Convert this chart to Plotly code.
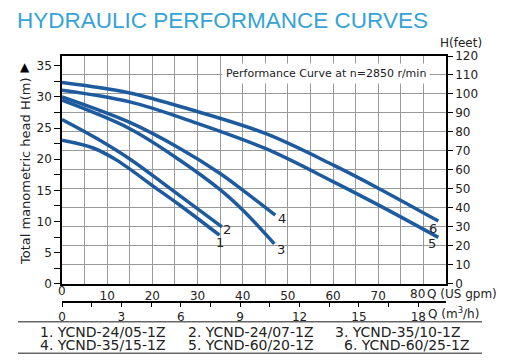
import plotly.graph_objects as go

# ---- data (flow in US gpm, head in m) ----
flow_1 = [0, 6.9, 12.1, 20.7, 26.1, 34.85]
head_1 = [23.05, 21.8, 19.85, 15.4, 12.6, 7.8]
flow_2 = [0, 8, 15.4, 23.9, 35.4]
head_2 = [26.37, 23.2, 19.84, 15.3, 9.14]
flow_3 = [0, 15, 26.1, 35.0, 40.0, 47.0]
head_3 = [29.47, 24.9, 19.84, 15.1, 11.82, 6.39]
flow_4 = [0, 15, 26.1, 35.0, 40.0, 47.2]
head_4 = [30.0, 25.9, 21.72, 17.71, 15.03, 11.02]
flow_5 = [0, 15, 28.4, 45, 60.1, 70.1, 83.3]
head_5 = [31.07, 29.2, 26.15, 21.72, 16.36, 12.62, 7.44]
flow_6 = [0, 15, 28.4, 45, 60.1, 70.1, 83.3]
head_6 = [32.31, 30.64, 27.98, 24.13, 19.04, 15.3, 10.06]

curve_ids = ["1", "2", "3", "4", "5", "6"]
models = ["1. YCND-24/05-1Z", "2. YCND-24/07-1Z", "3. YCND-35/10-1Z",
          "4. YCND-35/15-1Z", "5. YCND-60/20-1Z", "6. YCND-60/25-1Z"]

head_m_ticks = [0, 5, 10, 15, 20, 25, 30, 35]
head_ft_ticks = [0, 10, 20, 30, 40, 50, 60, 70, 80, 90, 100, 110, 120]
gpm_ticks = [0, 10, 20, 30, 40, 50, 60, 70, 80]
m3h_ticks = [0, 3, 6, 9, 12, 15, 18]

FT_PER_M = 3.28084
GPM_MAX = 85

# ---- geometry: the page body has an 8px margin, so the figure is 8px smaller ----
OFF = 8
W, H = 508 - OFF, 362 - OFF
ML, MR, MT, MB = 58 - OFF, 62, 56 - OFF, 60
PW, PH = W - ML - MR, H - MT - MB
def px(x):  # reference-window pixel -> paper
    return (x - OFF - ML) / PW
def py(y):
    return (H - MB - (y - OFF)) / PH

LINE = "#1D5B9E"
TXT = "#222222"
GRID = "#9a9a9a"
FONT = "DejaVu Sans"

fig = go.Figure()
flows = [flow_1, flow_2, flow_3, flow_4, flow_5, flow_6]
heads = [head_1, head_2, head_3, head_4, head_5, head_6]
for f, h in zip(flows, heads):
    fig.add_trace(go.Scatter(x=f, y=h, mode="lines", line=dict(color=LINE, width=3.5, shape="spline"),
                             showlegend=False, hoverinfo="skip", xaxis="x", yaxis="y"))

fig.add_trace(go.Scatter(x=[0], y=[0], mode="markers", marker=dict(opacity=0), showlegend=False,
                         hoverinfo="skip", xaxis="x2", yaxis="y"))
fig.add_trace(go.Scatter(x=[0], y=[0], mode="markers", marker=dict(opacity=0), showlegend=False,
                         hoverinfo="skip", xaxis="x", yaxis="y2"))

ymax_m = 120 / FT_PER_M
y_dom0 = py(283.7)

m_vals = [i * 2.5 for i in range(15)]
m_text = [str(int(v)) if v in head_m_ticks else " " for v in m_vals]
g_vals = [i * 5 for i in range(17)]
# first and last gpm labels are placed separately (they sit slightly off the grid in the original)
g_text = [str(v) if (v in gpm_ticks and v not in (gpm_ticks[0], gpm_ticks[-1])) else " " for v in g_vals]
q_vals = [i * 1.5 for i in range(13)]
q_text = [str(int(v)) if v in m3h_ticks else " " for v in q_vals]

fig.update_layout(
    template="none",
    width=W, height=H, margin=dict(l=ML, r=MR, t=MT, b=MB, autoexpand=False),
    paper_bgcolor="white", plot_bgcolor="white",
    font=dict(family=FONT, color=TXT, size=12),
    title=dict(text="HYDRAULIC PERFORMANCE CURVES", x=(17 - OFF) / W, xanchor="left", xref="container",
               y=1 - (20 - OFF) / H, yanchor="middle", yref="container", automargin=False,
               font=dict(family="Liberation Sans, Arial", size=22.5, color="#35A3D5")),
    xaxis=dict(domain=[px(62), 1], range=[0, GPM_MAX], tickvals=g_vals, ticktext=g_text,
               showgrid=True, gridcolor=GRID, gridwidth=1, ticks="", showline=True, linecolor="black",
               linewidth=1.5, mirror=True, zeroline=False, anchor="y", automargin=False,
               tickfont=dict(size=12)),
    xaxis2=dict(domain=[0, 1], range=[0, PW / 20.0], tickvals=q_vals, ticktext=q_text,
                anchor="free", position=0, overlaying="x", side="bottom", showgrid=False,
                ticks="outside", ticklen=4, tickcolor="black", showline=True, linecolor="black",
                linewidth=1.5, zeroline=False, automargin=False, tickfont=dict(size=12)),
    yaxis=dict(domain=[y_dom0, 1], range=[0, ymax_m], tickvals=m_vals, ticktext=m_text,
               showgrid=False, ticks="outside", ticklen=6, tickcolor="black", showline=True,
               linecolor="black", linewidth=1.5, zeroline=False, anchor="x", automargin=False,
               tickfont=dict(size=12)),
    yaxis2=dict(range=[0, 120], tickvals=head_ft_ticks, overlaying="y", side="right", anchor="x",
                showgrid=True, gridcolor=GRID, gridwidth=1, ticks="outside", ticklen=5,
                tickcolor="black", showline=True, linecolor="black", linewidth=1.5, zeroline=False,
                automargin=False, tickfont=dict(size=12)),
)

ann = []
ann.append(dict(text="Total manometric head H(m)", textangle=-90, x=px(25), y=py(172), xref="paper",
                yref="paper", showarrow=False, font=dict(size=13, color=TXT), xanchor="center", yanchor="middle"))
ann.append(dict(text="▲", x=px(25), y=py(67), xref="paper", yref="paper", showarrow=False,
                font=dict(size=12, color="black"), xanchor="center", yanchor="middle"))
ann.append(dict(text="H(feet)", x=px(461), y=py(43), xref="paper", yref="paper", showarrow=False,
                font=dict(size=12, color=TXT), xanchor="center", yanchor="middle"))
ann.append(dict(text="Q (US gpm)", x=px(425), y=py(293.5), xref="paper", yref="paper", showarrow=False,
                font=dict(size=12, color=TXT), xanchor="left", yanchor="middle"))
ann.append(dict(text="Q (m<sup>3</sup>/h)", x=px(426), y=py(313), xref="paper", yref="paper", showarrow=False,
                font=dict(size=12, color=TXT), xanchor="left", yanchor="middle"))
ann.append(dict(text="Performance Curve at n=2850 r/min", x=px(222), y=py(73), xref="paper", yref="paper",
                showarrow=False, font=dict(size=11, color=TXT), xanchor="left", yanchor="middle",
                bgcolor="white", borderpad=3))
# first / last gpm tick labels
ann.append(dict(text=str(gpm_ticks[0]), x=gpm_ticks[0], y=py(290.5), xref="x", yref="paper", showarrow=False,
                font=dict(size=12, color=TXT), xanchor="center", yanchor="middle"))
ann.append(dict(text=str(gpm_ticks[-1]), x=gpm_ticks[-1], xshift=-6, y=py(294), xref="x", yref="paper",
                showarrow=False, font=dict(size=12, color=TXT), xanchor="center", yanchor="middle"))

offsets = {"1": (1, -7), "2": (5, -3), "3": (7, -6), "4": (7, -3), "5": (-6, -6), "6": (-5, -7)}
for cid, f, h in zip(curve_ids, flows, heads):
    dx, dy = offsets[cid]
    ann.append(dict(text=cid, x=f[-1], y=h[-1], xref="x", yref="y", showarrow=False, xshift=dx, yshift=dy,
                    font=dict(size=13, color=TXT), xanchor="center", yanchor="middle"))

legend_pos = [(38, 331.7), (186, 331.7), (333, 331.7), (38, 345), (186, 345), (342, 345)]
for m, (lx, ly) in zip(models, legend_pos):
    ann.append(dict(text=m, x=px(lx), y=py(ly), xref="paper", yref="paper", showarrow=False,
                    font=dict(size=14, color=TXT), xanchor="left", yanchor="middle"))

fig.update_layout(annotations=ann)

shapes = []
for ly in (321.7, 353.3):
    shapes.append(dict(type="line", xref="paper", yref="paper", x0=px(18), x1=px(482), y0=py(ly), y1=py(ly),
                       line=dict(color="#666666", width=1.5)))
fig.update_layout(shapes=shapes)

fig.write_html("out.html")
